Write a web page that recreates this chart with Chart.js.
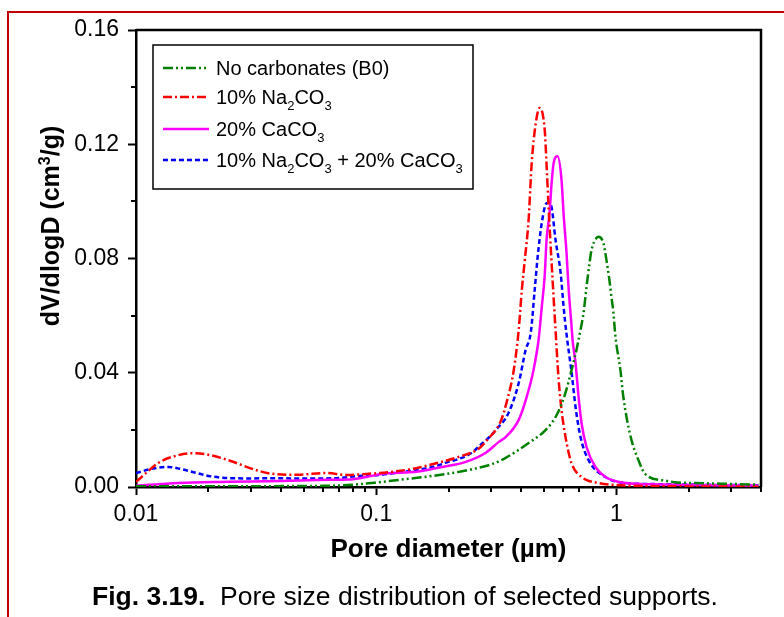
<!DOCTYPE html>
<html><head><meta charset="utf-8">
<script src="https://cdn.jsdelivr.net/npm/chart.js@4.4.1/dist/chart.umd.min.js"></script>
<style>
html,body{margin:0;padding:0;background:#fff;}
#wrap{position:relative;width:784px;height:617px;overflow:hidden;background:#fff;}
#frame{position:absolute;left:7px;top:11px;width:800px;height:700px;border-left:2px solid #c00000;border-top:2px solid #c00000;}
#cap{position:absolute;left:0;width:810px;top:581px;line-height:30px;text-align:center;font-size:26.5px;font-family:"Liberation Sans",Arial,sans-serif;white-space:pre;color:#000;}
canvas{position:absolute;left:0;top:0;}
</style></head>
<body><div id="wrap"><div id="frame"></div><canvas id="c" width="784" height="617"></canvas><div id="cap"><b>Fig. 3.19.</b>  Pore size distribution of selected supports.</div></div>
<script>
// ---- axis ticks ----
const xTickValues = [0.01, 0.1, 1];
const xTickLabels = ['0.01', '0.1', '1'];
const xMinorTicks = [0.02,0.03,0.04,0.05,0.06,0.07,0.08,0.09,0.2,0.3,0.4,0.5,0.6,0.7,0.8,0.9,2,3,4];
const yTickValues = [0, 0.04, 0.08, 0.12, 0.16];
const yTickLabels = ['0.00', '0.04', '0.08', '0.12', '0.16'];
const yMinorTicks = [0.02, 0.06, 0.10, 0.14];
const xTitle = 'Pore diameter (µm)';
const yTitle = 'dV/dlogD (cm^3/g)';
const seriesNames = ['No carbonates (B0)', '10% Na_2CO_3', '20% CaCO_3', '10% Na_2CO_3 + 20% CaCO_3'];

// ---- series: No carbonates (B0) ----
const d_B0 = [0.01,0.03,0.06,0.08,0.103,0.14,0.183,0.25,0.303,0.346,0.431,0.508,0.564,0.614,0.651,0.682,0.709,0.73,0.751,0.773,0.788,0.826,0.842,0.883,0.909,0.935,0.954,0.972,0.99,1.039,1.069,1.143,1.234,1.32,1.6,1.8,2.13,3.2,3.9];
const v_B0 = [0.0003,0.0003,0.0004,0.0008,0.0017,0.0030,0.0042,0.0062,0.0080,0.0102,0.0154,0.0200,0.0252,0.0330,0.0410,0.0480,0.0550,0.0610,0.0700,0.0784,0.0830,0.0872,0.0876,0.0854,0.0795,0.0725,0.0665,0.0610,0.0530,0.0410,0.0315,0.0180,0.0095,0.0045,0.0022,0.0016,0.0014,0.0010,0.0008];
// ---- series: 10% Na2CO3 ----
const d_Na = [0.01,0.0126,0.0145,0.017,0.02,0.024,0.032,0.037,0.047,0.062,0.075,0.088,0.113,0.147,0.183,0.22,0.268,0.29,0.33,0.35,0.374,0.392,0.404,0.415,0.431,0.444,0.461,0.479,0.503,0.512,0.522,0.537,0.558,0.575,0.591,0.614,0.65,0.716,0.842,0.99,1.5,2.2,3.9];
const v_Na = [0.0018,0.0088,0.0108,0.0118,0.0113,0.0095,0.0058,0.0046,0.0043,0.0049,0.0042,0.0045,0.0052,0.0066,0.0086,0.0105,0.0135,0.0165,0.0230,0.0300,0.0410,0.0550,0.0690,0.0790,0.0935,0.1134,0.1270,0.1327,0.1250,0.1130,0.0980,0.0790,0.0550,0.0375,0.0270,0.0175,0.0084,0.0035,0.0014,0.0007,0.0003,0.0002,0.0001];
// ---- series: 20% CaCO3 ----
const d_Ca = [0.01,0.015,0.0245,0.04,0.048,0.064,0.077,0.091,0.106,0.147,0.188,0.236,0.286,0.324,0.346,0.392,0.423,0.452,0.475,0.489,0.503,0.512,0.527,0.537,0.548,0.569,0.591,0.603,0.62,0.632,0.651,0.657,0.676,0.696,0.716,0.751,0.818,0.9,1.09,1.5,2.2,3.9];
const v_Ca = [0.0004,0.0014,0.0018,0.0021,0.0023,0.0025,0.0026,0.0035,0.0046,0.0053,0.0070,0.0088,0.0120,0.0158,0.0175,0.0235,0.0315,0.0410,0.0520,0.0630,0.0740,0.0865,0.0960,0.1060,0.1134,0.1158,0.1075,0.0955,0.0820,0.0700,0.0560,0.0515,0.0434,0.0315,0.0224,0.0140,0.0070,0.0035,0.0014,0.0009,0.0007,0.0005];
// ---- series: 10% Na2CO3 + 20% CaCO3 ----
const d_NaCa = [0.01,0.012,0.0136,0.0152,0.0179,0.0203,0.0246,0.03,0.037,0.047,0.056,0.068,0.083,0.103,0.117,0.171,0.2,0.215,0.25,0.27,0.3,0.315,0.356,0.392,0.419,0.44,0.457,0.47,0.489,0.512,0.522,0.537,0.558,0.586,0.603,0.62,0.651,0.676,0.709,0.765,0.9,1.09,1.5,2.2,3.9];
const v_NaCa = [0.0049,0.0066,0.0070,0.0064,0.0049,0.0038,0.0031,0.0030,0.0031,0.0030,0.0030,0.0031,0.0038,0.0042,0.0048,0.0070,0.0088,0.0095,0.0120,0.0145,0.0180,0.0200,0.0260,0.0364,0.0480,0.0540,0.0690,0.0805,0.0924,0.0994,0.0995,0.0980,0.0865,0.0750,0.0630,0.0535,0.0400,0.0280,0.0175,0.0095,0.0035,0.0014,0.0010,0.0008,0.0006];

const FONT = '"Liberation Sans", Arial, sans-serif';
const colors = ['#008000', '#ff0000', '#ff00ff', '#0000ff'];
const dashes = [[10,3,2,3,2,3], [9,3,2,3], [], [5,3]];
const widths = [2.5, 2.5, 2.5, 2.5];

function pts(xs, ys) { return xs.map((x, i) => ({x: x, y: ys[i]})); }
const allSeries = [pts(d_B0, v_B0), pts(d_Na, v_Na), pts(d_Ca, v_Ca), pts(d_NaCa, v_NaCa)];

// draw text with _d subscripts and ^d superscripts
function drawRich(ctx, str, x, y, size, bold, measureOnly) {
  const parts = str.split(/([_^]\d)/).filter(s => s.length);
  let cx = x;
  for (const p of parts) {
    let txt = p, fs = size, dy = 0;
    if (p[0] === '_') { txt = p[1]; fs = Math.round(size * 0.66); dy = size * 0.42; }
    else if (p[0] === '^') { txt = p[1]; fs = Math.round(size * 0.62); dy = -size * 0.38; }
    ctx.font = (bold ? 'bold ' : '') + fs + 'px ' + FONT;
    if (!measureOnly) ctx.fillText(txt, cx, y + dy);
    cx += ctx.measureText(txt).width;
  }
  return cx - x;
}

const decor = {
  id: 'decor',
  afterDraw(chart) {
    const ctx = chart.ctx, a = chart.chartArea;
    const xs = chart.scales.x, ys = chart.scales.y;
    ctx.save();
    ctx.strokeStyle = '#000'; ctx.lineWidth = 2.5;
    ctx.beginPath();
    ctx.moveTo(a.left, a.top); ctx.lineTo(a.right, a.top); ctx.lineTo(a.right, a.bottom);
    ctx.stroke();
    // minor ticks
    ctx.lineWidth = 2;
    ctx.beginPath();
    for (const v of xMinorTicks) { const px = Math.round(xs.getPixelForValue(v)); ctx.moveTo(px, a.bottom); ctx.lineTo(px, a.bottom + 5); }
    for (const v of yMinorTicks) { const py = Math.round(ys.getPixelForValue(v)); ctx.moveTo(a.left, py); ctx.lineTo(a.left - 5, py); }
    ctx.stroke();
    // axis titles
    ctx.fillStyle = '#000';
    ctx.textBaseline = 'alphabetic';
    ctx.font = 'bold 26px ' + FONT;
    ctx.textAlign = 'center';
    ctx.fillText(xTitle, (a.left + a.right) / 2, 557);
    ctx.textAlign = 'left';
    ctx.save();
    ctx.translate(59, 226);
    ctx.rotate(-Math.PI / 2);
    const w = drawRich(ctx, yTitle, 0, 0, 25, true, true);
    drawRich(ctx, yTitle, -w / 2, 0, 25, true, false);
    ctx.restore();
    // legend
    const bx = 153, by = 45, bw = 320, bh = 144;
    ctx.lineWidth = 1.5; ctx.strokeStyle = '#000';
    ctx.strokeRect(bx, by, bw, bh);
    const rows = [68, 97, 129, 160];
    for (let i = 0; i < seriesNames.length; i++) {
      const y = rows[i];
      ctx.save();
      ctx.strokeStyle = colors[i]; ctx.lineWidth = widths[i]; ctx.setLineDash(dashes[i]);
      ctx.beginPath(); ctx.moveTo(163, y); ctx.lineTo(209, y); ctx.stroke();
      ctx.restore();
      ctx.fillStyle = '#000'; ctx.textBaseline = 'middle';
      drawRich(ctx, seriesNames[i], 216, y + 1, 20, false, false);
    }
    ctx.restore();
  }
};

new Chart(document.getElementById('c'), {
  type: 'line',
  data: {
    datasets: allSeries.map((data, i) => ({
      label: seriesNames[i], data: data,
      borderColor: colors[i], backgroundColor: colors[i],
      borderWidth: widths[i], borderDash: dashes[i],
      pointRadius: 0, fill: false, cubicInterpolationMode: 'monotone'
    }))
  },
  options: {
    responsive: false, animation: false, parsing: true,
    layout: {padding: {left: 0, right: 23, top: 30, bottom: 0}},
    plugins: {legend: {display: false}, tooltip: {enabled: false}},
    scales: {
      x: {
        type: 'logarithmic', min: 0.01, max: 4,
        afterBuildTicks: s => { s.ticks = xTickValues.map(v => ({value: v, major: true})); },
        afterFit: s => { s.height = 130; },
        ticks: {autoSkip: false, maxRotation: 0, minRotation: 0, padding: 6, color: '#000',
          font: {family: FONT, size: 23},
          callback: (v, i) => xTickLabels[i]},
        grid: {drawOnChartArea: false, drawTicks: true, tickLength: 8, tickWidth: 2, tickColor: '#000'},
        border: {display: true, color: '#000', width: 2.5}
      },
      y: {
        min: 0, max: 0.16,
        afterBuildTicks: s => { s.ticks = yTickValues.map(v => ({value: v})); },
        afterFit: s => { s.width = 136; },
        ticks: {padding: 9, color: '#000', font: {family: FONT, size: 23},
          callback: (v, i) => yTickLabels[i]},
        grid: {drawOnChartArea: false, drawTicks: true, tickLength: 8, tickWidth: 2, tickColor: '#000'},
        border: {display: true, color: '#000', width: 2.5}
      }
    }
  },
  plugins: [decor]
});
</script>
</body></html>
